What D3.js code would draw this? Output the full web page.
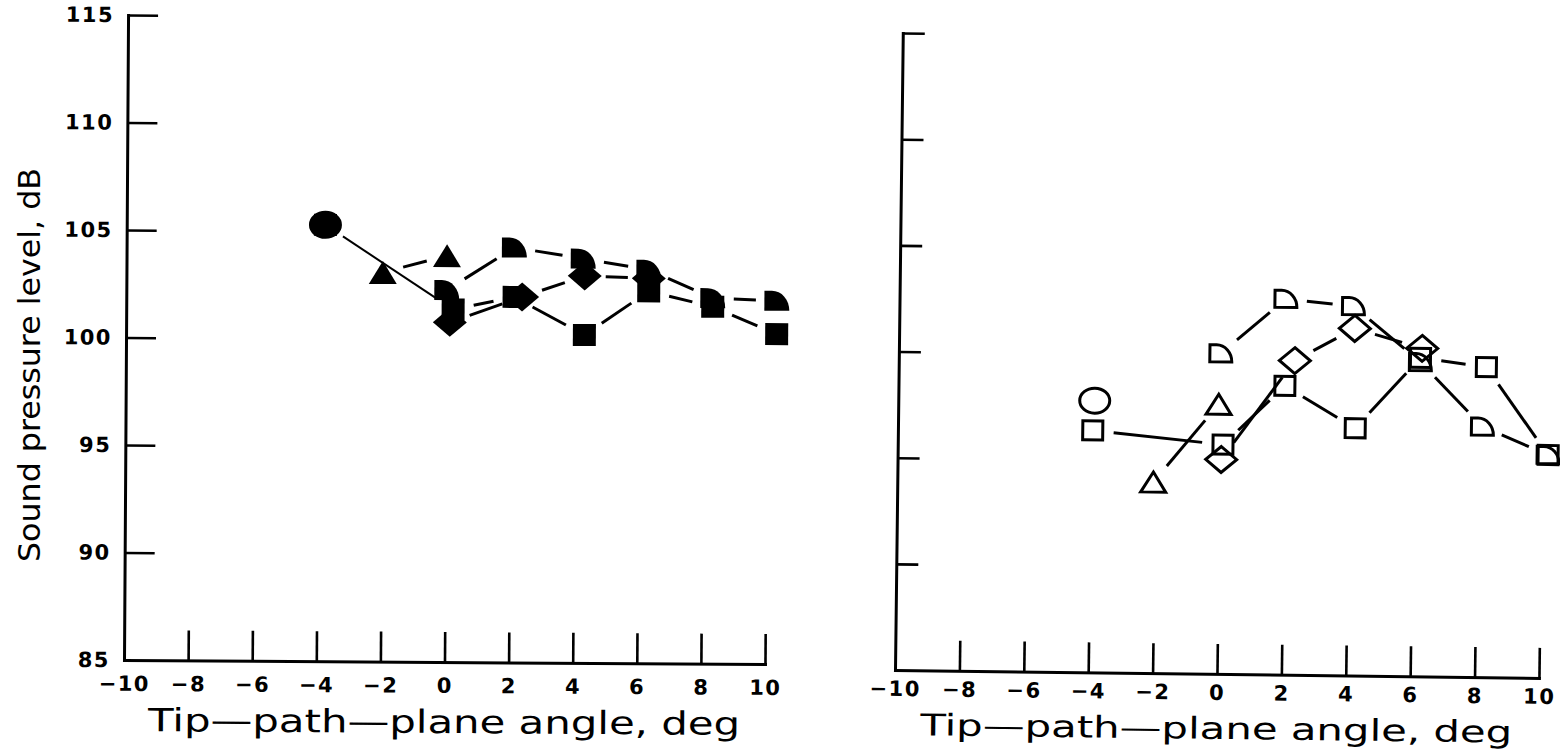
<!DOCTYPE html>
<html>
<head>
<meta charset="utf-8">
<script src="https://cdn.jsdelivr.net/npm/d3@7/dist/d3.min.js"></script>
<style>
  html, body { margin: 0; padding: 0; background: #fff; }
  svg { display: block; }
</style>
</head>
<body>
<svg id="chart" width="1560" height="751"></svg>
<script>
// Axis ticks shared by both panels
const angleTicks = [-10, -8, -6, -4, -2, 0, 2, 4, 6, 8, 10];
const splTicks = [85, 90, 95, 100, 105, 110, 115];

// Left panel: filled symbols  [tip-path-plane angle (deg), SPL (dB)]
const leftCircle   = [[-3.8, 105.3]];
const leftTriangle = [[-2.0, 103.1], [0.0, 103.9]];
const leftSquare   = [[-3.8, 105.3], [0.2, 101.4], [2.1, 102.0], [4.3, 100.25], [6.3, 102.3], [8.3, 101.6], [10.3, 100.35]];
const leftHalf     = [[0.0, 102.3], [2.1, 104.3], [4.25, 103.8], [6.3, 103.3], [8.3, 102.0], [10.3, 101.9]];
const leftDiamond  = [[0.1, 100.8], [2.35, 102.0], [4.3, 103.0], [6.3, 102.9]];

// Right panel: open symbols
const rightCircle   = [[-3.9, 97.8]];
const rightTriangle = [[-2.05, 94.0], [-0.05, 97.7]];
const rightSquare   = [[-3.95, 96.4], [0.1, 95.8], [2.0, 98.6], [4.2, 96.65], [6.2, 100.0], [8.25, 99.6], [10.2, 95.5]];
const rightHalf     = [[0.0, 100.1], [2.0, 102.7], [4.1, 102.4], [6.2, 99.8], [8.15, 96.8], [10.2, 95.5]];
const rightDiamond  = [[0.05, 95.1], [2.3, 99.8], [4.15, 101.35], [6.25, 100.45]];

const xTitle = "Tip\u2014path\u2014plane angle, deg";
const yTitle = "Sound pressure level, dB";

const svg = d3.select("#chart");

// Marker outlines, sized by their outer width/height
function markerPath(kind, w, h) {
  const p = d3.path();
  const hw = w / 2, hh = h / 2;
  switch (kind) {
    case "circle":
      return `M${-hw},0A${hw},${hh} 0 1 0 ${hw},0A${hw},${hh} 0 1 0 ${-hw},0Z`;
    case "square":
      p.rect(-hw, -hh, w, h);
      return p.toString();
    case "triangle":
      p.moveTo(0, -hh); p.lineTo(hw, hh); p.lineTo(-hw, hh); p.closePath();
      return p.toString();
    case "diamond":
      p.moveTo(0, -hh); p.lineTo(hw, 0); p.lineTo(0, hh); p.lineTo(-hw, 0); p.closePath();
      return p.toString();
    case "half": {
      const flat = w * 0.3;
      return `M${-hw},${hh}L${-hw},${-hh}L${-hw + flat},${-hh}A${w - flat},${h} 0 0 1 ${hw},${hh}Z`;
    }
  }
}

const markerSize = {
  circle:   [33, 28],
  square:   [23, 22],
  triangle: [28, 23],
  diamond:  [34, 29],
  half:     [25, 20]
};

function drawPanel(cfg) {
  const g = svg.append("g")
    .attr("transform", `rotate(${cfg.tilt},${cfg.x0},${cfg.yBottom})`);

  const x = d3.scaleLinear().domain([-10, 10]).range([cfg.x0, cfg.x1]);
  const y = d3.scaleLinear().domain([85, 115]).range([cfg.yBottom, cfg.yTop]);

  // x axis: ticks point up into the plot
  const xAxis = d3.axisBottom(x)
    .tickValues(angleTicks)
    .tickSizeInner(-30)
    .tickSizeOuter(0)
    .tickPadding(cfg.xPad)
    .tickFormat(d => d < 0 ? "\u2212" + Math.abs(d) : String(d));
  const gx = g.append("g").attr("transform", `translate(0,${cfg.yBottom})`).call(xAxis);
  gx.selectAll(".tick").filter(d => d === -10).select("line").remove();

  // y axis: ticks point right into the plot
  const yAxis = d3.axisLeft(y)
    .tickValues(splTicks)
    .tickSizeInner(-cfg.yTick)
    .tickSizeOuter(0)
    .tickPadding(14)
    .tickFormat(cfg.yLabels ? d3.format("d") : () => "");
  const gy = g.append("g").attr("transform", `translate(${cfg.x0},0)`).call(yAxis);
  gy.selectAll(".tick").filter(d => d === 85).select("line").remove();

  [gx, gy].forEach(a => {
    a.select(".domain").attr("stroke", "#000").attr("stroke-width", 3).attr("stroke-linecap", "square");
    a.selectAll(".tick line").attr("stroke", "#000").attr("stroke-width", 2.6);
    a.selectAll(".tick text")
      .attr("fill", "#000")
      .style("font-family", "'DejaVu Sans', sans-serif")
      .style("font-weight", "bold")
      .style("font-size", "21px")
      .style("letter-spacing", "1.5px");
  });

  // x axis title
  g.append("text")
    .attr("x", (cfg.x0 + cfg.x1) / 2)
    .attr("y", cfg.yBottom + cfg.titleDrop)
    .attr("text-anchor", "middle")
    .attr("textLength", 592)
    .attr("lengthAdjust", "spacingAndGlyphs")
    .style("font-family", "'DejaVu Sans', sans-serif")
    .style("font-size", cfg.titleSize + "px")
    .text(xTitle);

  // connecting lines, each segment stops short of the symbols
  const gap = 21;
  cfg.series.forEach(s => {
    const pts = s.data.map(d => [x(d[0]), y(d[1])]);
    for (let i = 1; i < pts.length; i++) {
      const [ax, ay] = pts[i - 1], [bx, by] = pts[i];
      const len = Math.hypot(bx - ax, by - ay);
      if (len <= 2 * gap) continue;
      const ux = (bx - ax) / len, uy = (by - ay) / len;
      g.append("line")
        .attr("x1", ax + ux * gap).attr("y1", ay + uy * gap)
        .attr("x2", bx - ux * gap).attr("y2", by - uy * gap)
        .attr("stroke", "#000")
        .attr("stroke-width", (i === 1 && s.leadWidth) ? s.leadWidth : 3);
    }
  });

  // symbols
  cfg.series.forEach(s => {
    const [w, h] = markerSize[s.kind];
    const sw = cfg.filled ? 0 : 3;
    g.append("g").selectAll("path")
      .data(s.data)
      .join("path")
      .attr("transform", d => `translate(${x(d[0])},${y(d[1])})`)
      .attr("d", markerPath(s.kind, w - sw, h - sw))
      .attr("fill", cfg.filled ? "#000" : "none")
      .attr("stroke", "#000")
      .attr("stroke-width", sw)
      .attr("stroke-linejoin", "miter");
  });
}

drawPanel({
  x0: 124, x1: 765, yTop: 15, yBottom: 660, tilt: 0.36, yTick: 30,
  yLabels: true, filled: true, xPad: 16, titleDrop: 71, titleSize: 32,
  series: [
    { kind: "square",   data: leftSquare, leadWidth: 2 },
    { kind: "diamond",  data: leftDiamond },
    { kind: "half",     data: leftHalf },
    { kind: "triangle", data: leftTriangle },
    { kind: "circle",   data: leftCircle }
  ]
});

drawPanel({
  x0: 895, x1: 1539, yTop: 33, yBottom: 670, tilt: 0.7, yTick: 22,
  yLabels: false, filled: false, xPad: 11, titleDrop: 65, titleSize: 30,
  series: [
    { kind: "square",   data: rightSquare },
    { kind: "diamond",  data: rightDiamond },
    { kind: "half",     data: rightHalf },
    { kind: "triangle", data: rightTriangle },
    { kind: "circle",   data: rightCircle }
  ]
});

// y axis title
svg.append("text")
  .attr("transform", "translate(40,365) rotate(-90)")
  .attr("text-anchor", "middle")
  .attr("textLength", 394)
  .attr("lengthAdjust", "spacingAndGlyphs")
  .style("font-family", "'DejaVu Sans', sans-serif")
  .style("font-size", "30px")
  .text(yTitle);
</script>
</body>
</html>
